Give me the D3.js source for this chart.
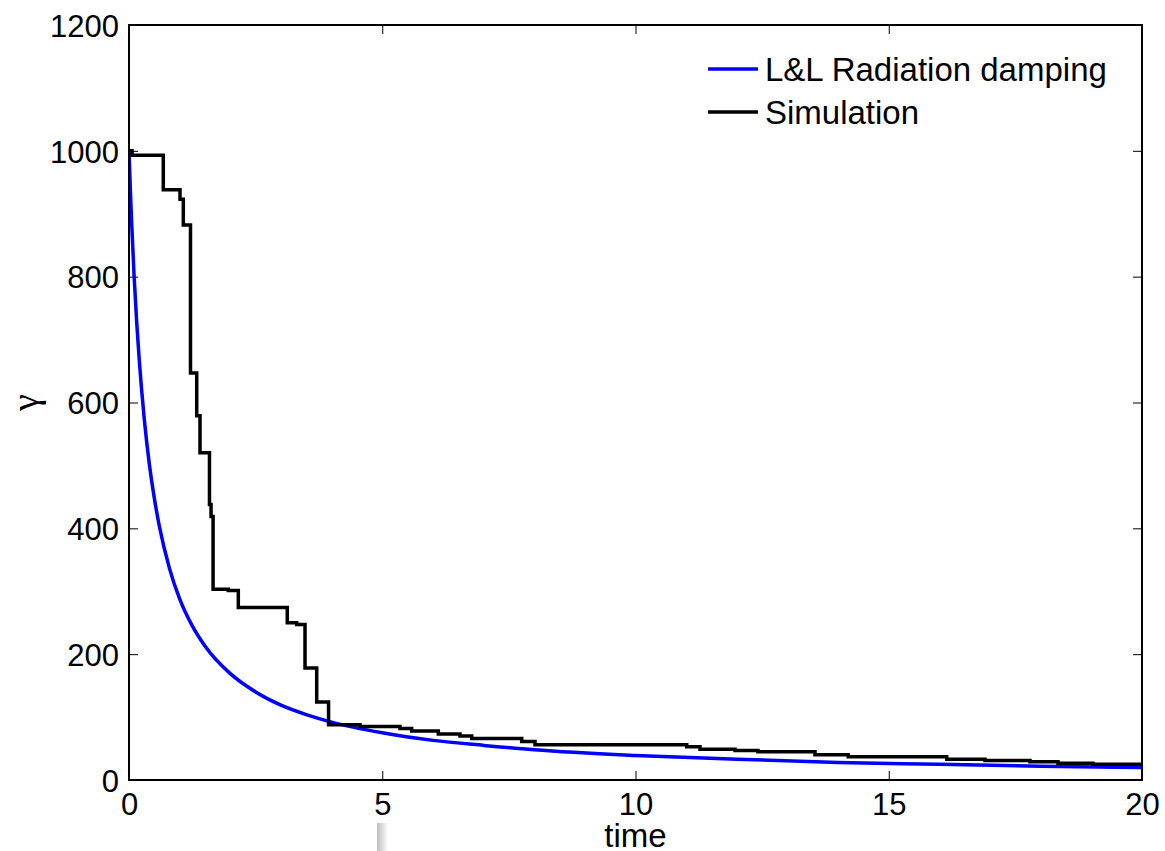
<!DOCTYPE html>
<html>
<head>
<meta charset="utf-8">
<script src="https://cdn.jsdelivr.net/npm/d3@7"></script>
<style>
  body { margin: 0; background: #fff; }
  svg { display: block; }
  text { font-family: "Liberation Sans", Arial, Helvetica, sans-serif; }
</style>
</head>
<body>
<svg id="chart" width="1165" height="851"></svg>
<script>
// L&L radiation damping curve
var llTime  = [0, 0.025, 0.05, 0.1, 0.15, 0.2, 0.3, 0.4, 0.5, 0.6, 0.8, 1.0, 1.25, 1.5, 2, 2.5, 3, 3.5, 4, 5, 6, 7, 8, 10, 12, 14, 16, 18, 20];
var llGamma = [1000, 942, 890, 802, 730, 670, 575, 503, 448, 403, 336, 288, 245, 213, 169, 140, 119, 104, 92, 75, 63, 55, 48, 39, 33, 28, 25, 22, 20];

// simulation, stepwise
var simTime  = [0, 0.06, 0.677, 1.007, 1.072, 1.214, 1.337, 1.402, 1.589, 1.62, 1.66, 1.96, 2.158, 3.125, 3.311, 3.475, 3.706, 3.94, 4.561, 5.35, 5.581, 6.107, 6.535, 6.766, 7.753, 8.016, 11.011, 11.274, 11.965, 12.418, 13.544, 14.201, 16.144, 16.9, 17.789, 18.342, 19.033, 20];
var simGamma = [1000, 993, 938, 923, 882, 647, 579, 520, 438, 419, 303, 301, 274, 250, 247, 178, 124, 88, 85, 82, 78, 73, 70, 66, 61, 56, 53, 49, 47, 45, 40, 37, 33, 31, 29, 26.5, 25, 25];

var xTicks = [0, 5, 10, 15, 20];
var yTicks = [0, 200, 400, 600, 800, 1000, 1200];
var seriesNames = ["L&L Radiation damping", "Simulation"];
var seriesColors = ["#0000ff", "#000000"];

var svg = d3.select("#chart");
var m = { left: 129, right: 1142, top: 25, bottom: 780 };

var x = d3.scaleLinear().domain([0, 20]).range([m.left, m.right]);
var y = d3.scaleLinear().domain([0, 1200]).range([m.bottom, m.top]);

var fontSize = 31;

// axes: ticks inward on all four sides
var gx = svg.append("g").attr("transform", "translate(0," + m.bottom + ")")
  .call(d3.axisBottom(x).tickValues(xTicks).tickSizeInner(-9).tickSizeOuter(0).tickPadding(13).tickFormat(d3.format("d")));
var gxTop = svg.append("g").attr("transform", "translate(0," + m.top + ")")
  .call(d3.axisTop(x).tickValues(xTicks).tickSizeInner(-9).tickSizeOuter(0).tickFormat(""));
var gy = svg.append("g").attr("transform", "translate(" + m.left + ",0)")
  .call(d3.axisLeft(y).tickValues(yTicks).tickSizeInner(-9).tickSizeOuter(0).tickPadding(10).tickFormat(d3.format("d")));
var gyRight = svg.append("g").attr("transform", "translate(" + m.right + ",0)")
  .call(d3.axisRight(y).tickValues(yTicks).tickSizeInner(-9).tickSizeOuter(0).tickFormat(""));

[gx, gxTop, gy, gyRight].forEach(function(g) {
  g.select(".domain").remove();
  g.selectAll(".tick line").attr("stroke", "#000").attr("stroke-width", 1);
  g.selectAll(".tick text").attr("fill", "#000").style("font-size", fontSize + "px")
    .style("font-family", "'Liberation Sans', Arial, sans-serif");
});
gy.selectAll(".tick text").attr("dy", "0.36em");

// lines
var llData = llTime.map(function(t, i) { return [t, llGamma[i]]; });
var simData = simTime.map(function(t, i) { return [t, simGamma[i]]; });

svg.append("clipPath").attr("id", "clip")
  .append("rect").attr("x", m.left).attr("y", m.top).attr("width", m.right - m.left).attr("height", m.bottom - m.top);

var plot = svg.append("g").attr("clip-path", "url(#clip)");

plot.append("path")
  .datum(llData)
  .attr("fill", "none")
  .attr("stroke", seriesColors[0])
  .attr("stroke-width", 3.5)
  .attr("d", d3.line().x(function(d) { return x(d[0]); }).y(function(d) { return y(d[1]); }).curve(d3.curveMonotoneX));

plot.append("path")
  .datum(simData)
  .attr("fill", "none")
  .attr("stroke", seriesColors[1])
  .attr("stroke-width", 3.5)
  .attr("stroke-linejoin", "miter")
  .attr("d", d3.line().x(function(d) { return x(d[0]); }).y(function(d) { return y(d[1]); }).curve(d3.curveStepAfter));

// box
svg.append("rect")
  .attr("x", m.left).attr("y", m.top)
  .attr("width", m.right - m.left).attr("height", m.bottom - m.top)
  .attr("fill", "none").attr("stroke", "#000").attr("stroke-width", 2);

// legend
var legend = svg.append("g");
seriesNames.forEach(function(name, i) {
  var ly = 69 + i * 43;
  legend.append("line")
    .attr("x1", 708).attr("x2", 758).attr("y1", ly).attr("y2", ly)
    .attr("stroke", seriesColors[i]).attr("stroke-width", 3.5);
  legend.append("text")
    .attr("x", 765).attr("y", ly + 12)
    .style("font-size", "33px")
    .text(name);
});

// axis labels
svg.append("text")
  .attr("x", (m.left + m.right) / 2).attr("y", 847)
  .attr("text-anchor", "middle")
  .style("font-size", "33px")
  .text("time");

svg.append("text")
  .attr("transform", "translate(38," + ((m.top + m.bottom) / 2) + ") rotate(-90)")
  .attr("text-anchor", "middle")
  .style("font-family", "'Liberation Serif', 'DejaVu Serif', serif")
  .style("font-size", "38px")
  .text("γ");

// faint grey smudge below the 5 tick in the original
var grad = svg.append("defs").append("linearGradient").attr("id", "smudge");
grad.append("stop").attr("offset", "0%").attr("stop-color", "#bdbdbd");
grad.append("stop").attr("offset", "100%").attr("stop-color", "#ffffff");
svg.append("rect").attr("x", 377).attr("y", 823).attr("width", 11).attr("height", 28).attr("fill", "url(#smudge)");
</script>
</body>
</html>
